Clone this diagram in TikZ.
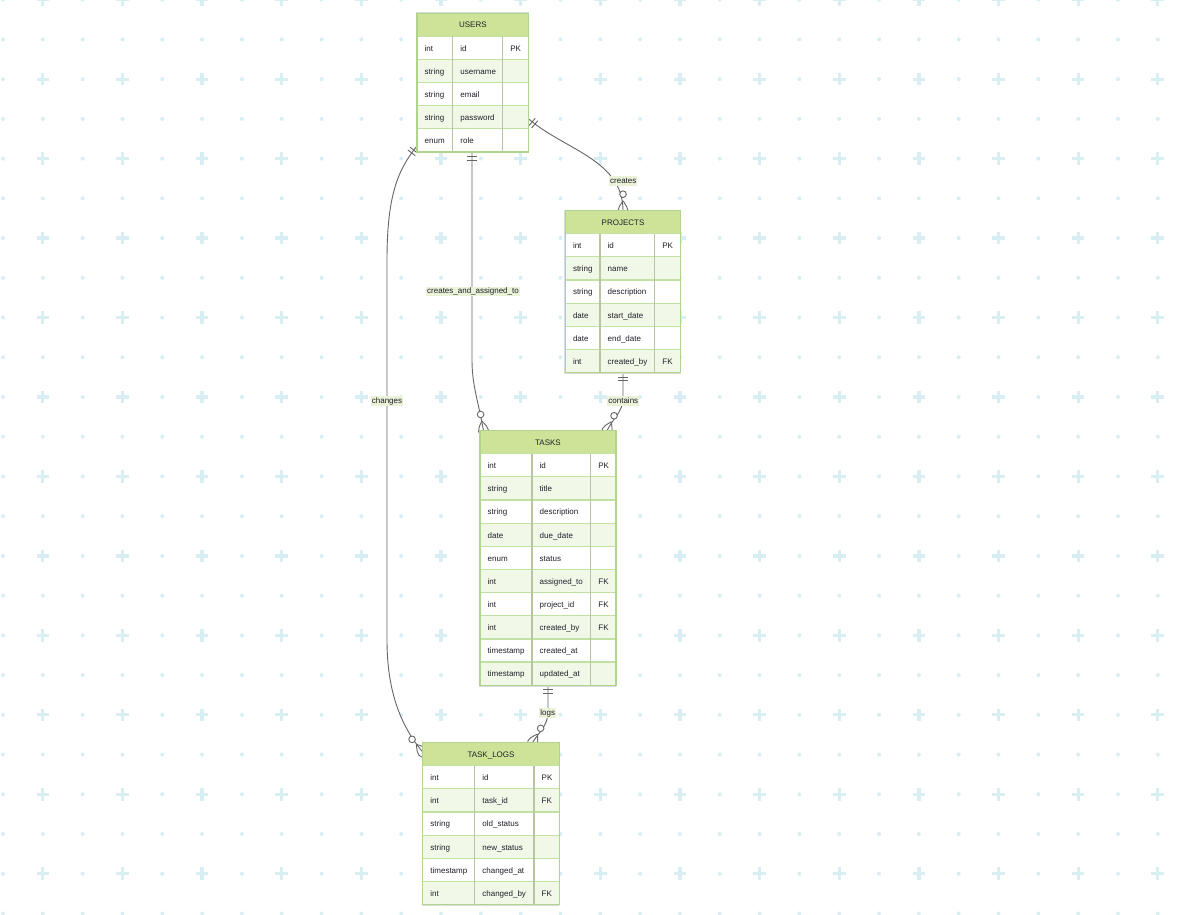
\documentclass[tikz,border=0pt]{standalone}
\usepackage{fontspec}
\setmainfont{Liberation Sans}
\usetikzlibrary{calc}

\definecolor{gridc}{HTML}{D8EEF3}
\definecolor{hdrc}{HTML}{CDE498}
\definecolor{rowalt}{HTML}{F2F8E8}
\definecolor{rowsep}{HTML}{C2E2A4}
\definecolor{colsep}{HTML}{B7C6A0}
\definecolor{framec}{HTML}{AFD48B}
\definecolor{linkc}{HTML}{666666}
\definecolor{lblbg}{HTML}{EAF2D7}
\definecolor{txtc}{HTML}{1F1F2A}

\pgfdeclarelayer{grid}
\pgfdeclarelayer{links}
\pgfsetlayers{grid,links,main}

\tikzset{
  griddot/.style={fill=gridc},
  gridplus/.style={draw=gridc, line width=3.3pt},
  hdrfill/.style={fill=hdrc},
  rowodd/.style={fill=white},
  roweven/.style={fill=rowalt},
  rowline/.style={draw=rowsep, line width=1.2pt},
  colline/.style={draw=colsep, line width=1.2pt},
  tblframe/.style={draw=framec, line width=1.2pt, inner sep=0pt, outer sep=0pt},
  tblshadow/.style={fill=black!14},
  celltext/.style={anchor=base west, inner sep=0pt, text=txtc, font=\fontsize{8}{9}\selectfont},
  hdrtext/.style={anchor=base, inner sep=0pt, text=txtc, font=\fontsize{8}{9}\selectfont},
  conn/.style={draw=linkc, line width=0.9pt},
  rellabel/.style={fill=lblbg, text=txtc, inner sep=1pt, text height=6pt, text depth=1.8pt, font=\fontsize{8}{9}\selectfont},
}

\def\hdrh{23}
\def\rowh{23.15}

% entity table: name, x, y, col widths (3), row count, title, rows type/name/key
\newcommand{\ertable}[9]{%
  \pgfmathsetmacro{\tbA}{#2+#4}%
  \pgfmathsetmacro{\tbB}{#2+#4+#5}%
  \pgfmathsetmacro{\tbR}{#2+#4+#5+#6}%
  \pgfmathsetmacro{\tbH}{#3+\hdrh}%
  \pgfmathsetmacro{\tbE}{#3+\hdrh+#7*\rowh}%
  \pgfmathsetmacro{\tbW}{#4+#5+#6}%
  \pgfmathsetmacro{\tbT}{\hdrh+#7*\rowh}%
  \fill[tblshadow] (#2-1.2,#3-0.8) rectangle (\tbR,\tbE+1.4);
  \fill[hdrfill] (#2,#3) rectangle (\tbR,\tbH);
  \node[hdrtext] (#1-title) at ({(#2+\tbR)/2},{(#3+\tbH)/2+2.9}) {#8};
  \foreach \ta/\tb/\tc [count=\ri] in {#9} {
    \pgfmathsetmacro{\yt}{\tbH+(\ri-1)*\rowh}
    \pgfmathsetmacro{\yb}{\yt+\rowh}
    \pgfmathsetmacro{\ym}{\yt+\rowh/2+3.3}
    \ifodd\ri\relax
      \fill[rowodd] (#2,\yt) rectangle (\tbR,\yb);
    \else
      \fill[roweven] (#2,\yt) rectangle (\tbR,\yb);
    \fi
    \draw[rowline] (#2,\yt) -- (\tbR,\yt);
    \node[celltext] (#1-\ri-type) at (#2+7.5,\ym) {\ta};
    \node[celltext] (#1-\ri-name) at (\tbA+7.5,\ym) {\tb};
    \node[celltext] (#1-\ri-key) at (\tbB+7.5,\ym) {\tc};
  }
  \draw[colline] (\tbA,\tbH) -- (\tbA,\tbE) (\tbB,\tbH) -- (\tbB,\tbE);
  \node[tblframe, anchor=north west, minimum width=\tbW pt, minimum height=\tbT pt] (#1) at (#2,#3) {};
}

% "exactly one" bars near the start of a link
\newcommand{\onemark}[3]{%
  \coordinate (#1-m1) at ($(#2)!4.5pt!(#3)$);
  \coordinate (#1-m2) at ($(#2)!8pt!(#3)$);
  \draw[conn] ($(#1-m1)!4.7pt!90:(#3)$) -- ($(#1-m1)!4.7pt!-90:(#3)$);
  \draw[conn] ($(#1-m2)!4.7pt!90:(#3)$) -- ($(#1-m2)!4.7pt!-90:(#3)$);
}

% "zero or more" ring and crow's foot at the end of a link
\newcommand{\manymark}[3]{%
  \coordinate (#1-c) at ($(#2)!16.5pt!(#3)$);
  \coordinate (#1-a) at ($(#2)!9.9pt!(#3)$);
  \coordinate (#1-b) at ($(#2)!-9.9pt!(#3)$);
  \coordinate (#1-k1) at ($(#2)!6.6pt!90:(#3)$);
  \coordinate (#1-k2) at ($(#2)!6.6pt!-90:(#3)$);
  \draw[conn] (#1-a) .. controls (#1-k1) .. (#1-b) .. controls (#1-k2) .. (#1-a);
  \draw[conn, fill=white] (#1-c) circle[radius=3.3pt];
}

\begin{document}
\begin{tikzpicture}[x=1pt, y=-1pt]
\useasboundingbox (0,0) rectangle (1189,915);

% dotted background with crosses
\begin{pgfonlayer}{grid}
\fill[white] (0,0) rectangle (1189,915);
\foreach \i in {0,...,29} {
  \foreach \j in {0,...,23} {
    \pgfmathsetmacro{\gx}{3+39.82*\i}
    \pgfmathsetmacro{\gy}{-0.3+39.73*\j}
    \pgfmathtruncatemacro{\isplus}{and(mod(\i,2)==1, mod(\j,2)==0)}
    \ifnum\isplus=1
      \draw[gridplus] (\gx-6.3,\gy) -- (\gx+6.3,\gy) (\gx,\gy-6.3) -- (\gx,\gy+6.3);
    \else
      \fill[griddot] (\gx,\gy) circle[radius=2pt];
    \fi
  }
}
\end{pgfonlayer}

% entities
\ertable{users}{417}{13.3}{35.7}{50}{26}{5}{USERS}{int/id/PK, string/username/{}, string/email/{}, string/password/{}, enum/role/{}}
\ertable{projects}{565.3}{210.7}{34.7}{54.7}{26}{6}{PROJECTS}{int/id/PK, string/name/{}, string/description/{}, date/start\_date/{}, date/end\_date/{}, int/created\_by/FK}
\ertable{tasks}{480}{430.7}{52}{58.7}{25.3}{10}{TASKS}{int/id/PK, string/title/{}, string/description/{}, date/due\_date/{}, enum/status/{}, int/assigned\_to/FK, int/project\_id/FK, int/created\_by/FK, timestamp/created\_at/{}, timestamp/updated\_at/{}}
\ertable{tasklogs}{422.7}{742.7}{52}{59.3}{25.3}{6}{TASK\_LOGS}{int/id/PK, int/task\_id/FK, string/old\_status/{}, string/new\_status/{}, timestamp/changed\_at/{}, int/changed\_by/FK}

% link end points on the entity borders
\coordinate (uP) at ($(users.north east)+(0,105.7)$);
\coordinate (uT) at ($(users.south west)+(55,0)$);
\coordinate (uL) at ($(users.south west)+(-0.5,-5.5)$);
\coordinate (pU) at ($(projects.north west)+(57.7,0)$);
\coordinate (pT) at ($(projects.south west)+(57.7,0)$);
\coordinate (tU) at ($(tasks.north west)+(3.5,0)$);
\coordinate (tP) at ($(tasks.north west)+(127,0)$);
\coordinate (tL) at ($(tasks.south west)+(68,0)$);
\coordinate (lU) at ($(tasklogs.north west)+(0,9.3)$);
\coordinate (lT) at ($(tasklogs.north west)+(109.8,0)$);

\begin{pgfonlayer}{links}
% users creates projects
\draw[conn] (uP) .. controls (565,150) and (623,160) .. (pU);
\onemark{m1}{uP}{565,150}
\manymark{m2}{pU}{623,160}
% users creates and is assigned tasks
\draw[conn] (uT) -- (472,360) .. controls (472,385) and (478,400) .. (tU);
\onemark{m3}{uT}{472,360}
\manymark{m4}{tU}{478,400}
% users change task logs
\draw[conn] (uL) .. controls (398,170) and (387,195) .. (387,260) -- (387,640) .. controls (387,690) and (400,725) .. (lU);
\onemark{m5}{uL}{398,170}
\manymark{m6}{lU}{400,725}
% projects contain tasks
\draw[conn] (pT) -- (623,398) .. controls (623,412) and (613,418) .. (tP);
\onemark{m7}{pT}{623,398}
\manymark{m8}{tP}{613,418}
% tasks are logged
\draw[conn] (tL) -- (548,712) .. controls (548,726) and (538,733) .. (lT);
\onemark{m9}{tL}{548,712}
\manymark{m10}{lT}{538,733}
\end{pgfonlayer}

% relationship labels
\node[rellabel] (lbl-creates) at (623.3,181) {creates};
\node[rellabel] (lbl-cat) at (473,291.5) {creates\_and\_assigned\_to};
\node[rellabel] (lbl-changes) at (387,401) {changes};
\node[rellabel] (lbl-contains) at (623.3,401) {contains};
\node[rellabel] (lbl-logs) at (547.8,713.3) {logs};
\end{tikzpicture}
\end{document}
